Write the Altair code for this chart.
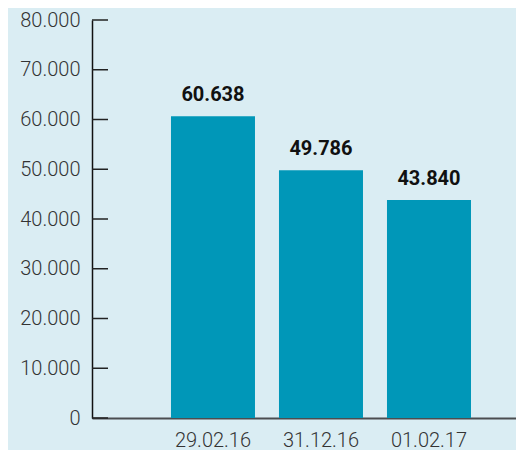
import altair as alt
import pandas as pd

dates = ["29.02.16", "31.12.16", "01.02.17"]
values = [60638, 49786, 43840]
tick_values = [0, 10000, 20000, 30000, 40000, 50000, 60000, 70000, 80000]

df = pd.DataFrame({"date": dates, "value": values})
ticks_df = pd.DataFrame({"t": tick_values})

BG = "#daedf3"
BAR = "#0097b8"
FMT = "replace(format(datum.value, ','), ',', '.')"

x_enc = alt.X(
    "date:N",
    sort=dates,
    scale=alt.Scale(paddingInner=0.2222, paddingOuter=0.574, align=0.637),
    axis=alt.Axis(
        title=None,
        labelAngle=0,
        ticks=False,
        domain=True,
        domainColor="#4a4d50",
        domainWidth=2,
        labelFont="Roboto",
        labelFontWeight=300,
        labelFontSize=20,
        labelColor="#333333",
        labelPadding=12,
    ),
)
y_scale = alt.Scale(domain=[0, 80000], nice=False)
y_enc = alt.Y(
    "value:Q",
    scale=y_scale,
    axis=alt.Axis(
        title=None,
        values=tick_values,
        labelExpr=FMT,
        ticks=False,
        grid=False,
        domain=True,
        domainColor="#111111",
        domainWidth=1.5,
        labelFont="Roboto",
        labelFontWeight=300,
        labelFontSize=20,
        labelColor="#333333",
        labelPadding=12,
    ),
)

base = alt.Chart(df)
bars = base.mark_bar(color=BAR).encode(x=x_enc, y=y_enc)
labels = (
    base.transform_calculate(label=FMT)
    .mark_text(
        dy=-15,
        baseline="alphabetic",
        font="Roboto",
        fontWeight="bold",
        fontSize=20,
        color="#111111",
    )
    .encode(x=alt.X("date:N", sort=dates), y=alt.Y("value:Q", scale=y_scale), text="label:N")
)
tick_rules = (
    alt.Chart(ticks_df)
    .mark_rule(color="#222222", strokeWidth=1.5)
    .encode(y=alt.Y("t:Q", scale=y_scale), x=alt.value(0), x2=alt.value(16))
)

chart = (
    alt.layer(bars, labels, tick_rules)
    .properties(
        width=424,
        height=398,
        padding={"left": 84, "top": 12, "right": 0, "bottom": 32},
        autosize=alt.AutoSizeParams(type="none"),
        background=BG,
    )
    .configure_view(stroke=None)
)

chart.save("out.html", embed_options={"renderer": "svg", "actions": False})
